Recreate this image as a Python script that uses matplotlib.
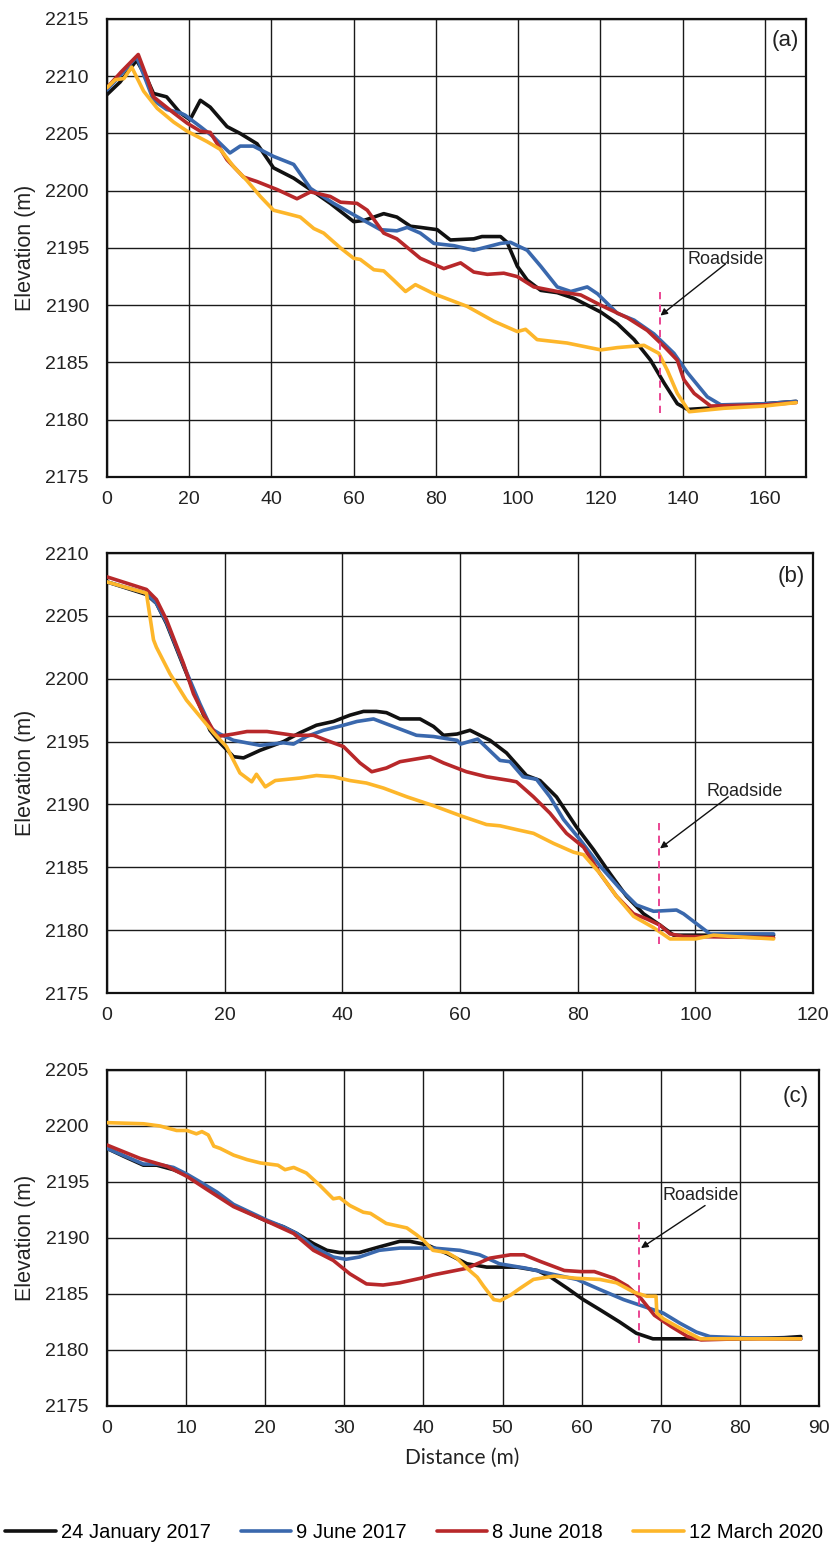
import matplotlib
matplotlib.use("Agg")
import matplotlib.pyplot as plt

plt.rcParams["font.family"] = ["Liberation Sans", "DejaVu Sans"]

SERIES = ["24 January 2017", "9 June 2017", "8 June 2018", "12 March 2020"]
COLORS = ["#111111", "#3a68ad", "#b8282a", "#fdb62a"]

# ---- panel (a) ----
a_black_x = [0, 3.2, 7.2, 9.7, 11.3, 14.5, 17.8, 20.2, 22.7, 25.1, 29.2, 32.4, 36.5, 40.5, 45.4,
             50.3, 54.3, 60.0, 62.4, 64.9, 67.3, 70.5, 73.8, 76.2, 80.3, 83.5, 89.2, 91.2, 95.7,
             97.3, 99.8, 102.2, 105.5, 109.5, 113.6, 120.1, 124.1, 128.2, 132.2, 135.5, 138.7,
             141.2, 150, 160, 167.6]
a_black_y = [2208.4, 2209.5, 2211.4, 2209.8, 2208.5, 2208.2, 2206.8, 2206.2, 2207.9, 2207.3,
             2205.6, 2205.0, 2204.1, 2202.0, 2201.1, 2199.9, 2198.9, 2197.3, 2197.4, 2197.7,
             2198.0, 2197.7, 2196.9, 2196.8, 2196.6, 2195.7, 2195.8, 2196.0, 2196.0, 2195.5,
             2193.4, 2192.2, 2191.3, 2191.1, 2190.6, 2189.4, 2188.4, 2187.0, 2185.2, 2183.2,
             2181.4, 2180.9, 2181.1, 2181.4, 2181.6]
a_blue_x = [0, 3.5, 7.2, 9.5, 11.3, 14.5, 17.8, 19.0, 22.7, 25.9, 29.9, 32.4, 35.6, 40.5, 45.4,
            49.5, 55.1, 60.0, 66.5, 70.5, 73.0, 76.2, 79.5, 84.4, 89.2, 95.7, 98.1, 102.2, 105.5,
            109.5, 112.8, 116.8, 119.3, 124.1, 128.2, 133.0, 137.9, 141.2, 146.0, 149.3, 160, 167.6]
a_blue_y = [2208.8, 2210.2, 2211.7, 2209.6, 2207.9, 2207.1, 2206.8, 2206.6, 2205.6, 2204.7,
            2203.3, 2203.9, 2203.9, 2203.0, 2202.3, 2200.2, 2198.9, 2197.9, 2196.6, 2196.5,
            2196.8, 2196.3, 2195.4, 2195.2, 2194.8, 2195.4, 2195.5, 2194.8, 2193.4, 2191.6,
            2191.2, 2191.6, 2191.0, 2189.3, 2188.7, 2187.5, 2185.8, 2184.1, 2182.0, 2181.3,
            2181.4, 2181.6]
a_red_x = [0, 3.5, 7.6, 9.7, 11.3, 16.2, 19.5, 22.7, 25.1, 29.2, 33.2, 36.5, 41.4, 46.2, 49.5,
           54.3, 56.8, 60.8, 63.3, 67.3, 70.5, 76.2, 81.9, 86.0, 89.2, 92.5, 96.5, 99.8, 103.8,
           109.5, 115.2, 120.1, 126.6, 131.4, 135.5, 138.7, 140.3, 142.8, 146.8, 160, 167.6]
a_red_y = [2209.0, 2210.4, 2211.9, 2209.9, 2208.2, 2206.8, 2205.9, 2205.2, 2205.1, 2202.7,
           2201.2, 2200.8, 2200.1, 2199.3, 2199.9, 2199.5, 2199.0, 2198.9, 2198.3, 2196.3,
           2195.8, 2194.1, 2193.2, 2193.7, 2192.9, 2192.7, 2192.8, 2192.5, 2191.6, 2191.2,
           2190.9, 2190.0, 2188.9, 2187.8, 2186.4, 2185.2, 2183.5, 2182.3, 2181.2, 2181.3, 2181.5]
a_yellow_x = [0, 2.0, 4.1, 6.0, 8.9, 12.2, 16.2, 19.5, 24.3, 27.6, 30.8, 34.0, 37.3, 40.5, 43.8,
              47.0, 50.3, 52.7, 56.8, 60.0, 61.6, 64.9, 67.3, 69.7, 72.6, 75.0, 79.5, 87.6, 94.1,
              99.8, 101.8, 104.6, 111.9, 120.1, 124.1, 130.6, 134.2, 136.3, 138.7, 141.6, 150,
              160, 167.6]
a_yellow_y = [2209.0, 2209.7, 2209.8, 2210.8, 2208.7, 2207.2, 2206.0, 2205.2, 2204.3, 2203.6,
              2202.1, 2200.9, 2199.5, 2198.3, 2198.0, 2197.7, 2196.7, 2196.3, 2195.0, 2194.1,
              2194.0, 2193.1, 2193.0, 2192.2, 2191.2, 2191.8, 2191.0, 2189.9, 2188.6, 2187.7,
              2187.9, 2187.0, 2186.7, 2186.1, 2186.3, 2186.5, 2185.8, 2184.3, 2182.3, 2180.7,
              2181.0, 2181.2, 2181.5]

# ---- panel (b) ----
b_black_x = [0, 6.7, 8.4, 10.1, 13.0, 15.8, 17.5, 19.2, 21.5, 23.2, 26.0, 30.0, 32.8, 35.6, 38.5,
             41.3, 43.6, 45.8, 47.5, 49.8, 52.1, 53.2, 55.5, 57.2, 59.5, 61.7, 65.1, 67.9, 71.3,
             73.6, 76.4, 79.8, 82.7, 85.5, 88.3, 91.2, 94.0, 96.3, 105, 113.3]
b_black_y = [2207.7, 2206.7, 2206.0, 2204.4, 2201.0, 2197.8, 2195.9, 2194.9, 2193.8, 2193.7,
             2194.3, 2195.0, 2195.7, 2196.3, 2196.6, 2197.1, 2197.4, 2197.4, 2197.3, 2196.8,
             2196.8, 2196.8, 2196.2, 2195.5, 2195.6, 2195.9, 2195.1, 2194.1, 2192.3, 2191.9,
             2190.6, 2188.2, 2186.4, 2184.5, 2182.7, 2181.3, 2180.4, 2179.6, 2179.6, 2179.6]
b_blue_x = [0, 6.7, 8.4, 10.1, 13.0, 15.8, 17.8, 19.2, 21.5, 26.0, 30.0, 31.7, 33.9, 36.8, 40.2,
            42.5, 45.3, 48.1, 52.6, 55.5, 59.5, 60.1, 63.0, 66.8, 68.5, 70.7, 73.0, 75.3, 77.6,
            80.4, 83.8, 87.2, 90.0, 92.9, 96.8, 98.0, 100.8, 102.5, 113.3]
b_blue_y = [2207.7, 2206.8, 2206.0, 2204.5, 2201.1, 2198.0, 2196.0, 2195.6, 2195.1, 2194.7,
            2194.9, 2194.8, 2195.4, 2195.9, 2196.3, 2196.6, 2196.8, 2196.3, 2195.5, 2195.4,
            2195.1, 2194.8, 2195.2, 2193.5, 2193.4, 2192.2, 2192.0, 2190.6, 2188.8, 2187.2,
            2185.1, 2183.3, 2182.0, 2181.5, 2181.6, 2181.3, 2180.3, 2179.7, 2179.7]
b_red_x = [0, 6.7, 8.4, 10.1, 13.0, 14.7, 16.4, 18.7, 21.5, 23.8, 27.2, 31.7, 35.1, 37.3, 40.2,
           43.0, 45.0, 47.5, 49.8, 54.9, 57.2, 61.1, 64.5, 68.5, 69.6, 72.5, 75.3, 78.1, 81.0,
           83.8, 86.6, 89.5, 91.7, 94.0, 95.7, 98.0, 113.3]
b_red_y = [2208.1, 2207.1, 2206.3, 2204.7, 2201.2, 2198.8, 2197.2, 2195.4, 2195.6, 2195.8,
           2195.8, 2195.5, 2195.5, 2195.1, 2194.6, 2193.3, 2192.6, 2192.9, 2193.4, 2193.8,
           2193.3, 2192.6, 2192.2, 2191.9, 2191.8, 2190.6, 2189.3, 2187.7, 2186.6, 2184.5,
           2182.7, 2181.3, 2180.9, 2180.4, 2179.7, 2179.5, 2179.4]
b_yellow_x = [0, 6.7, 7.9, 8.4, 10.7, 13.5, 15.8, 18.1, 20.3, 22.6, 24.6, 25.4, 26.9, 28.6, 32.8,
              35.6, 38.5, 41.3, 44.1, 47.0, 51.0, 55.5, 60.1, 64.5, 66.8, 69.6, 72.5, 75.9, 79.3,
              81.0, 83.8, 86.6, 89.5, 92.9, 95.7, 100.0, 103.1, 106.0, 113.3]
b_yellow_y = [2207.7, 2206.8, 2203.1, 2202.5, 2200.4, 2198.3, 2197.0, 2195.7, 2194.6, 2192.5,
              2191.8, 2192.4, 2191.4, 2191.9, 2192.1, 2192.3, 2192.2, 2191.9, 2191.7, 2191.3,
              2190.6, 2189.9, 2189.1, 2188.4, 2188.3, 2188.0, 2187.7, 2186.9, 2186.2, 2186.0,
              2184.5, 2182.7, 2181.1, 2180.2, 2179.3, 2179.3, 2179.6, 2179.5, 2179.3]

# ---- panel (c) ----
c_black_x = [0, 2.1, 4.6, 6.3, 8.4, 10.1, 11.8, 13.9, 16.0, 18.1, 20.2, 22.3, 24.0, 26.1, 27.8,
             29.4, 31.9, 34.4, 37.0, 38.3, 40.4, 43.0, 45.5, 48.0, 51.8, 54.4, 56.1, 58.2, 60.2,
             62.3, 64.8, 66.9, 69.0, 79.3, 85.6, 87.7]
c_black_y = [2198.0, 2197.3, 2196.5, 2196.5, 2196.1, 2195.6, 2194.9, 2194.0, 2192.9, 2192.2,
             2191.5, 2191.0, 2190.4, 2189.5, 2188.9, 2188.7, 2188.7, 2189.2, 2189.7, 2189.7,
             2189.4, 2188.6, 2187.7, 2187.4, 2187.4, 2187.1, 2186.5, 2185.5, 2184.5, 2183.6,
             2182.5, 2181.5, 2181.0, 2181.0, 2181.1, 2181.2]
c_blue_x = [0, 4.6, 6.3, 8.4, 10.1, 11.8, 13.9, 16.0, 18.1, 20.2, 22.3, 24.0, 26.1, 28.6, 30.2,
            31.9, 34.4, 37.0, 41.2, 44.6, 47.1, 49.6, 53.0, 56.1, 59.4, 62.3, 65.3, 67.8, 70.3,
            72.4, 74.5, 76.2, 80.0, 87.7]
c_blue_y = [2198.0, 2196.6, 2196.6, 2196.3, 2195.7, 2195.0, 2194.1, 2193.0, 2192.3, 2191.6,
            2191.0, 2190.4, 2189.2, 2188.3, 2188.1, 2188.3, 2188.9, 2189.1, 2189.1, 2188.9,
            2188.5, 2187.7, 2187.3, 2186.8, 2186.3, 2185.4, 2184.5, 2183.9, 2183.3, 2182.4,
            2181.6, 2181.2, 2181.1, 2181.0]
c_red_x = [0, 4.2, 7.6, 10.1, 12.7, 16.0, 20.2, 23.6, 26.1, 28.6, 30.7, 32.8, 34.9, 37.0, 39.6,
           41.2, 45.5, 48.4, 51.0, 52.7, 54.8, 57.8, 59.9, 61.6, 64.1, 65.8, 67.5, 69.2, 71.3,
           73.4, 75.1, 80.0, 87.7]
c_red_y = [2198.3, 2197.1, 2196.4, 2195.5, 2194.3, 2192.8, 2191.5, 2190.4, 2188.9, 2188.0,
           2186.8, 2185.9, 2185.8, 2186.0, 2186.4, 2186.7, 2187.3, 2188.2, 2188.5, 2188.5,
           2187.9, 2187.1, 2187.0, 2187.0, 2186.4, 2185.7, 2184.6, 2183.1, 2182.1, 2181.2,
           2180.9, 2181.0, 2181.0]
c_yellow_x = [0, 4.6, 6.7, 8.8, 10.1, 11.3, 12.0, 12.8, 13.5, 14.3, 16.0, 17.7, 19.4, 21.6, 22.5,
              23.6, 25.2, 26.9, 28.6, 29.4, 30.7, 32.4, 33.3, 35.3, 37.9, 39.1, 40.0, 41.2, 43.0,
              44.2, 45.5, 46.8, 47.6, 48.9, 49.7, 51.0, 52.2, 53.9, 56.5, 59.4, 62.3, 64.4, 66.5,
              68.2, 69.4, 69.5, 70.3, 72.8, 75.0, 80.0, 87.7]
c_yellow_y = [2200.3, 2200.2, 2200.0, 2199.6, 2199.6, 2199.3, 2199.5, 2199.2, 2198.2, 2198.0,
              2197.4, 2197.0, 2196.7, 2196.5, 2196.1, 2196.3, 2195.8, 2194.7, 2193.5, 2193.6,
              2192.9, 2192.3, 2192.2, 2191.3, 2190.9, 2190.3, 2189.8, 2188.9, 2188.7, 2188.2,
              2187.3, 2186.5, 2185.7, 2184.5, 2184.4, 2184.9, 2185.5, 2186.3, 2186.6, 2186.4,
              2186.3, 2186.0, 2185.2, 2184.8, 2184.8, 2183.3, 2182.8, 2181.8, 2181.0, 2181.0,
              2181.0]

PANELS = [
    dict(tag="(a)", xlim=(0, 170), xstep=20, xmax_tick=160, ylim=(2175, 2215),
         rect=(107, 19, 806, 477), lab=(0.99, 0.954),
         series=[(a_black_x, a_black_y), (a_blue_x, a_blue_y), (a_red_x, a_red_y),
                 (a_yellow_x, a_yellow_y)],
         road_x=134.5, road_y=(2180.6, 2191.6), text=(150.4, 2194.0),
         arrow_from=(150.4, 2193.6), arrow_to=(134.6, 2189.1)),
    dict(tag="(b)", xlim=(0, 120), xstep=20, xmax_tick=120, ylim=(2175, 2210),
         rect=(107, 553, 813, 993), lab=(0.989, 0.946),
         series=[(b_black_x, b_black_y), (b_blue_x, b_blue_y), (b_red_x, b_red_y),
                 (b_yellow_x, b_yellow_y)],
         road_x=93.9, road_y=(2178.9, 2188.8), text=(108.4, 2191.0),
         arrow_from=(105.6, 2190.6), arrow_to=(94.0, 2186.5)),
    dict(tag="(c)", xlim=(0, 90), xstep=10, xmax_tick=90, ylim=(2175, 2205),
         rect=(107, 1070, 819, 1406), lab=(0.986, 0.921),
         series=[(c_black_x, c_black_y), (c_blue_x, c_blue_y), (c_red_x, c_red_y),
                 (c_yellow_x, c_yellow_y)],
         road_x=67.3, road_y=(2180.6, 2191.7), text=(75.0, 2193.8),
         arrow_from=(75.6, 2192.9), arrow_to=(67.5, 2189.1)),
]

W, H = 833, 1544
fig = plt.figure(figsize=(W / 100, H / 100), dpi=100)

handles = []
for p in PANELS:
    x0, y0, x1, y1 = p["rect"]
    ax = fig.add_axes([x0 / W, 1 - y1 / H, (x1 - x0) / W, (y1 - y0) / H])
    for (xs, ys), color, name in zip(p["series"], COLORS, SERIES):
        (ln,) = ax.plot(xs, ys, color=color, lw=2.6, label=name,
                        solid_joinstyle="round", solid_capstyle="round", zorder=3)
        if len(handles) < 4:
            handles.append(ln)

    ax.set_xlim(*p["xlim"])
    ax.set_ylim(*p["ylim"])
    ax.set_xticks(range(0, p["xmax_tick"] + 1, p["xstep"]))
    ax.set_yticks(range(p["ylim"][0], p["ylim"][1] + 1, 5))
    ax.grid(True, color="#1a1a1a", lw=1.0, zorder=1)
    ax.set_axisbelow(True)
    ax.tick_params(length=0, labelsize=14, colors="#222222")
    ax.tick_params(axis="y", pad=13)
    ax.tick_params(axis="x", pad=10)
    for s in ax.spines.values():
        s.set_linewidth(1.6)
        s.set_color("#111111")

    ax.text(p["lab"][0], p["lab"][1], p["tag"], transform=ax.transAxes,
            ha="right", va="center", fontsize=16, color="#222222")

    ax.plot([p["road_x"], p["road_x"]], p["road_y"], color="#e8378a", lw=1.3,
            dashes=(4, 3), zorder=4)
    ax.text(p["text"][0], p["text"][1], "Roadside", ha="center", va="center",
            fontsize=13, color="#222222", zorder=5)
    ax.annotate("", xy=p["arrow_to"], xytext=p["arrow_from"],
                arrowprops=dict(arrowstyle="-|>", color="#111111", lw=1.0,
                                mutation_scale=10, shrinkA=0, shrinkB=0),
                zorder=5)

    fig.text(26 / W, 1 - (y0 + y1) / 2 / H, "Elevation (m)", rotation=90,
             ha="center", va="center", fontsize=15.5, color="#222222")

fig.text(462 / W, 1 - 1458 / H, "Distance (m)", ha="center", va="center",
         fontsize=15, color="#222222", family=["Lato", "DejaVu Sans"])

fig.legend(handles, SERIES, loc="center", bbox_to_anchor=(414 / W, 1 - 1533 / H),
           ncol=4, frameon=False, fontsize=14.5, handlelength=2.5, handletextpad=0.25,
           columnspacing=1.5, borderpad=0, borderaxespad=0)

fig.savefig("out.png", dpi=100)
